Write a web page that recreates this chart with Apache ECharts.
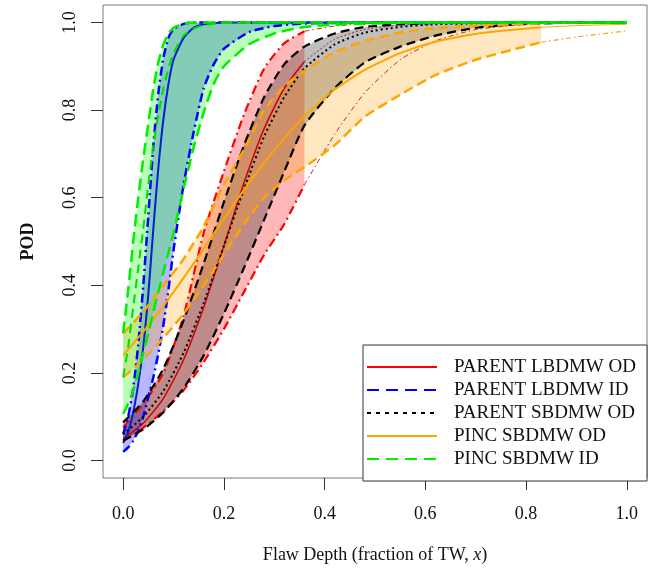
<!DOCTYPE html>
<html>
<head>
<meta charset="utf-8">
<script src="https://cdn.jsdelivr.net/npm/echarts@6/dist/echarts.min.js"></script>
<style>
html, body { margin: 0; padding: 0; background: #fff; }
#chart { width: 660px; height: 569px; }
</style>
</head>
<body>
<div id="chart"></div>
<script>
// flaw depth grids (fraction of TW)
var xsSteep = [0, 0.01, 0.02, 0.03, 0.04, 0.05, 0.06, 0.07, 0.08, 0.09, 0.10, 0.12, 0.14, 0.16, 0.18, 0.20, 0.25, 0.30, 0.35, 0.40, 0.50, 0.60, 0.80, 1.00];
var xsWide = [0, 0.04, 0.08, 0.12, 0.16, 0.20, 0.24, 0.28, 0.32, 0.36, 0.42, 0.48, 0.55, 0.62, 0.70, 0.78, 0.83, 0.90, 1.00];

// PARENT LBDMW ID (on xsSteep)
var blueMid = [0.04, 0.065, 0.11, 0.175, 0.26, 0.38, 0.53, 0.67, 0.78, 0.86, 0.915, 0.965, 0.988, 0.996, 0.999, 1, 1, 1, 1, 1, 1, 1, 1, 1];
var blueUp  = [0.06, 0.10, 0.165, 0.265, 0.40, 0.56, 0.72, 0.84, 0.92, 0.965, 0.985, 0.997, 1, 1, 1, 1, 1, 1, 1, 1, 1, 1, 1, 1];
var blueLow = [0.02, 0.03, 0.045, 0.068, 0.10, 0.145, 0.19, 0.245, 0.31, 0.39, 0.48, 0.63, 0.75, 0.85, 0.905, 0.94, 0.978, 0.992, 0.997, 0.999, 1, 1, 1, 1];

// PINC SBDMW ID (on xsSteep)
var greenMid = [0.19, 0.26, 0.35, 0.44, 0.53, 0.63, 0.72, 0.79, 0.85, 0.895, 0.93, 0.97, 0.986, 0.994, 0.997, 0.999, 1, 1, 1, 1, 1, 1, 1, 1];
var greenUp  = [0.29, 0.39, 0.50, 0.60, 0.69, 0.77, 0.85, 0.91, 0.95, 0.975, 0.988, 0.997, 1, 1, 1, 1, 1, 1, 1, 1, 1, 1, 1, 1];
var greenLow = [0.106, 0.13, 0.16, 0.20, 0.245, 0.29, 0.34, 0.385, 0.43, 0.475, 0.52, 0.62, 0.715, 0.795, 0.86, 0.90, 0.95, 0.975, 0.988, 0.994, 0.998, 1, 1, 1];

// PARENT LBDMW OD (on xsWide)
var redMid = [0.05, 0.085, 0.142, 0.23, 0.35, 0.49, 0.634, 0.758, 0.85, 0.911, 0.962, 0.984, 0.994, 0.998, 0.999, 1, 1, 1, 1];
var redUp  = [0.076, 0.13, 0.20, 0.33, 0.52, 0.66, 0.79, 0.895, 0.953, 0.98, 0.992, 0.997, 0.999, 1, 1, 1, 1, 1, 1];
var redLow = [0.045, 0.075, 0.113, 0.16, 0.225, 0.30, 0.385, 0.47, 0.54, 0.63, 0.745, 0.84, 0.915, 0.958, 0.984, 0.994, 0.997, 0.999, 1];

// PARENT SBDMW OD (on xsWide)
var blackMid = [0.06, 0.10, 0.159, 0.246, 0.36, 0.49, 0.62, 0.74, 0.83, 0.895, 0.95, 0.977, 0.99, 0.996, 0.998, 1, 1, 1, 1];
var blackUp  = [0.087, 0.135, 0.21, 0.32, 0.45, 0.59, 0.72, 0.83, 0.905, 0.945, 0.975, 0.99, 0.996, 0.999, 1, 1, 1, 1, 1];
var blackLow = [0.045, 0.071, 0.11, 0.165, 0.24, 0.335, 0.44, 0.55, 0.66, 0.765, 0.85, 0.909, 0.945, 0.97, 0.988, 0.996, 0.998, 1, 1];

// PINC SBDMW OD (on xsWide)
var orangeMid = [0.24, 0.294, 0.353, 0.417, 0.484, 0.552, 0.618, 0.68, 0.736, 0.786, 0.847, 0.892, 0.93, 0.956, 0.974, 0.984, 0.989, 0.993, 0.996];
var orangeUp  = [0.29, 0.34, 0.40, 0.46, 0.535, 0.63, 0.71, 0.80, 0.855, 0.89, 0.932, 0.958, 0.977, 0.987, 0.993, 0.996, 0.998, 0.999, 1];
var orangeLow = [0.19, 0.23, 0.28, 0.335, 0.40, 0.47, 0.54, 0.60, 0.64, 0.67, 0.72, 0.785, 0.835, 0.88, 0.915, 0.94, 0.955, 0.967, 0.981];

var redEnd = 0.36;     // data range of the OD sets
var orangeEnd = 0.83;

var tickValues = [0, 0.2, 0.4, 0.6, 0.8, 1.0];
var legendNames = ['PARENT LBDMW OD', 'PARENT LBDMW ID', 'PARENT SBDMW OD', 'PINC SBDMW OD', 'PINC SBDMW ID'];

var FONT = '"Liberation Serif", "Times New Roman", serif';

function seg(xs, ys, from, to) {
    var out = [];
    for (var i = 0; i < xs.length; i++) {
        if (xs[i] >= from - 1e-9 && xs[i] <= to + 1e-9) out.push([xs[i], ys[i]]);
    }
    return out;
}

function band(xs, lo, hi, xmax, color) {
    var up = seg(xs, hi, 0, xmax);
    var dn = seg(xs, lo, 0, xmax).reverse();
    var all = up.concat(dn);
    return {
        type: 'custom',
        silent: true,
        z: 1,
        data: [[0, 0]],
        renderItem: function (params, api) {
            var pts = all.map(function (d) { return api.coord(d); });
            return { type: 'polygon', shape: { points: pts }, style: { fill: color } };
        }
    };
}

function line(name, data, color, width, dash) {
    return {
        name: name,
        type: 'line',
        data: data,
        symbol: 'none',
        smooth: 0.2,
        silent: true,
        z: 3,
        lineStyle: { color: color, width: width, type: dash || 'solid' }
    };
}

var dashDot = [9, 4, 2, 4];
var thinDashDot = [5, 3, 1.5, 3];

var series = [
    band(xsWide, redLow, redUp, redEnd, 'rgba(255,0,0,0.28)'),
    band(xsSteep, blueLow, blueUp, 1, 'rgba(0,0,255,0.28)'),
    band(xsWide, blackLow, blackUp, 1, 'rgba(0,0,0,0.25)'),
    band(xsWide, orangeLow, orangeUp, orangeEnd, 'rgba(255,165,0,0.25)'),
    band(xsSteep, greenLow, greenUp, 1, 'rgba(0,255,0,0.28)'),

    // PARENT LBDMW OD
    line('', seg(xsWide, redUp, 0, redEnd), '#ff0000', 2.2, dashDot),
    line('', seg(xsWide, redLow, 0, redEnd), '#ff0000', 2.2, dashDot),
    line(legendNames[0], seg(xsWide, redMid, 0, redEnd), '#cc0000', 1.5),
    line('', seg(xsWide, redUp, redEnd, 1), '#cc2222', 1, thinDashDot),
    line('', seg(xsWide, redLow, redEnd, 1), '#cc2222', 1, thinDashDot),
    line('', seg(xsWide, redMid, redEnd, 1), '#b22222', 1, [2, 2]),

    // PARENT LBDMW ID
    line('', seg(xsSteep, blueUp, 0, 1), '#0000ff', 2.5, dashDot),
    line('', seg(xsSteep, blueLow, 0, 1), '#0000ff', 2.5, dashDot),
    line(legendNames[1], seg(xsSteep, blueMid, 0, 1), '#0022cc', 2),

    // PARENT SBDMW OD
    line('', seg(xsWide, blackUp, 0, 1), '#000000', 2.2, [9, 5]),
    line('', seg(xsWide, blackLow, 0, 1), '#000000', 2.2, [9, 5]),
    line(legendNames[2], seg(xsWide, blackMid, 0, 1), '#000000', 2, [2, 3]),

    // PINC SBDMW OD
    line('', seg(xsWide, orangeUp, 0, orangeEnd), '#ffa500', 2.5, [10, 5]),
    line('', seg(xsWide, orangeLow, 0, orangeEnd), '#ffa500', 2.5, [10, 5]),
    line(legendNames[3], seg(xsWide, orangeMid, 0, orangeEnd), '#ffa500', 2),
    line('', seg(xsWide, orangeLow, orangeEnd, 1), '#f5a623', 1.2, thinDashDot),
    line('', seg(xsWide, orangeMid, orangeEnd, 1), '#ffa500', 1),
    line('', seg(xsWide, orangeUp, orangeEnd, 1), '#ffa500', 1, [6, 4]),

    // PINC SBDMW ID
    line('', seg(xsSteep, greenUp, 0, 1), '#00ee00', 2.5, [12, 6]),
    line('', seg(xsSteep, greenLow, 0, 1), '#00ee00', 2.5, [12, 6]),
    line(legendNames[4], seg(xsSteep, greenMid, 0, 1), '#00dd00', 2, [9, 6])
];

// legend drawn like the R legend box
var legendStyles = [
    { color: '#ff0000', dash: null },
    { color: '#0000ff', dash: [12, 7] },
    { color: '#000000', dash: [4, 5] },
    { color: '#ffa500', dash: null },
    { color: '#00ee00', dash: [12, 7] }
];
var graphic = [{
    type: 'rect', z: 10,
    shape: { x: 363, y: 345, width: 284, height: 136 },
    style: { fill: '#ffffff', stroke: '#333333', lineWidth: 1 }
}];
legendNames.forEach(function (n, i) {
    var yc = 367 + i * 23;
    graphic.push({
        type: 'line', z: 11,
        shape: { x1: 367, y1: yc, x2: 437, y2: yc },
        style: { stroke: legendStyles[i].color, lineWidth: 2, lineDash: legendStyles[i].dash }
    });
    graphic.push({
        type: 'text', z: 11, x: 454, y: yc,
        style: { text: n, font: '19px ' + FONT, fill: '#111', align: 'left', verticalAlign: 'middle', textAlign: 'left', textVerticalAlign: 'middle' }
    });
});

var chart = echarts.init(document.getElementById('chart'));
chart.setOption({
    animation: false,
    backgroundColor: '#fff',
    grid: { left: 103, top: 5, width: 544, height: 476, show: true, borderColor: '#7a7a7a', borderWidth: 1 },
    xAxis: {
        type: 'value', min: -0.04, max: 1.04,
        splitLine: { show: false },
        axisLine: { show: false, onZero: false },
        axisTick: { show: true, customValues: tickValues, length: 12, lineStyle: { color: '#333' } },
        axisLabel: {
            customValues: tickValues, margin: 27,
            formatter: function (v) { return v.toFixed(1); },
            fontFamily: FONT, fontSize: 18, color: '#111'
        },
        name: 'Flaw Depth (fraction of TW, {i|x})',
        nameLocation: 'middle', nameGap: 68,
        nameTextStyle: {
            fontFamily: FONT, fontSize: 18, color: '#111',
            rich: { i: { fontFamily: FONT, fontSize: 18, fontStyle: 'italic', color: '#111' } }
        }
    },
    yAxis: {
        type: 'value', min: -0.04, max: 1.04,
        splitLine: { show: false },
        axisLine: { show: false, onZero: false },
        axisTick: { show: true, customValues: tickValues, length: 12, lineStyle: { color: '#333' } },
        axisLabel: {
            customValues: tickValues, margin: 24, rotate: 90,
            formatter: function (v) { return v.toFixed(1); },
            fontFamily: FONT, fontSize: 18, color: '#111'
        },
        name: 'POD',
        nameLocation: 'middle', nameGap: 66, nameRotate: 90,
        nameTextStyle: { fontFamily: FONT, fontSize: 18, fontWeight: 'bold', color: '#111' }
    },
    graphic: graphic,
    series: series
});
</script>
</body>
</html>
